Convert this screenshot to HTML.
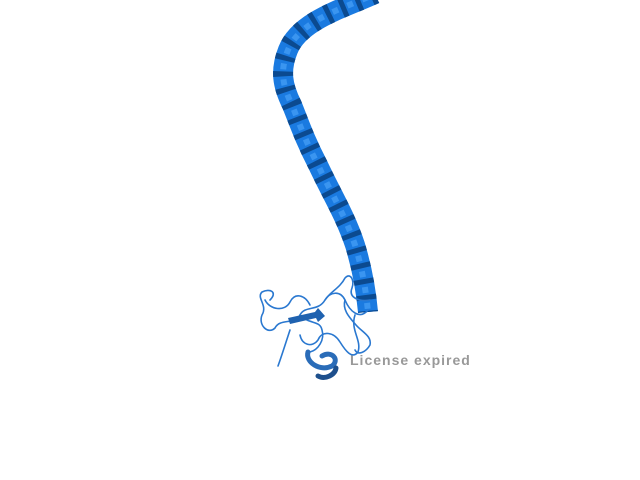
<!DOCTYPE html>
<html><head><meta charset="utf-8"><style>
html,body{margin:0;padding:0;background:#fff;width:640px;height:480px;overflow:hidden}
svg{display:block}
</style></head><body>
<svg id="scene" width="640" height="480" viewBox="0 0 640 480" xmlns="http://www.w3.org/2000/svg">
<g fill="none" stroke-linecap="butt" stroke-linejoin="round">
<path d="M375,-6 C345,8 300,20 288,50 C280,70 282,85 292,105 C300,125 305,140 318,165 C332,195 345,215 355,245 C362,268 366,290 368,312" stroke="#1a7ae0" stroke-width="20"/>
<path d="M375,-6 C345,8 300,20 288,50 C280,70 282,85 292,105 C300,125 305,140 318,165 C332,195 345,215 355,245 C362,268 366,290 368,312" stroke="#0b4a90" stroke-width="20" stroke-dasharray="5 11"/>
<path d="M375,-6 C345,8 300,20 288,50 C280,70 282,85 292,105 C300,125 305,140 318,165 C332,195 345,215 355,245 C362,268 366,290 368,312" stroke="#3a95f0" stroke-width="6" stroke-dasharray="6 10" stroke-dashoffset="8"/>
</g>
<g fill="none" stroke="#2a78d0" stroke-width="1.6" stroke-linecap="round" stroke-linejoin="round">
<path d="M368,310 C360,320 350,312 345,300 C340,290 330,292 325,300 C318,312 305,305 300,315 C295,325 280,318 275,328 C268,335 258,325 262,315 C268,305 256,298 262,292 C270,288 278,292 270,300"/>
<path d="M355,315 C350,330 362,340 358,352 C352,360 345,350 340,342 C334,332 322,330 318,340 C312,348 302,345 300,335"/>
<path d="M325,300 C330,292 340,288 345,278 C350,272 355,280 352,288 C348,298 360,302 370,300"/>
<path d="M300,315 C310,325 320,320 322,330 C325,340 318,350 310,352"/>
<path d="M290,330 C285,345 282,355 278,366"/>
<path d="M345,300 C342,310 350,318 356,325 C362,332 372,336 370,345 C366,352 358,356 355,350"/>
<path d="M265,300 C270,310 285,312 290,302 C295,292 305,295 310,305"/>
</g>
<g>
<path d="M288,318 L315,312 L318,308 L325,316 L318,322 L316,318 L290,324 Z" fill="#1f62b0"/>
</g>
<g fill="none" stroke-width="5" stroke-linecap="round">
<path d="M308,352 C305,362 320,372 332,366 C340,360 332,350 322,356" stroke="#2a6cb8"/>
<path d="M318,376 C325,380 335,375 336,368" stroke="#1d4f8c"/>
</g>
<text x="350" y="365" font-family="'Liberation Sans', sans-serif" font-weight="bold" font-size="14" letter-spacing="1" fill="#999999">License expired</text>
</svg>
</body></html>
